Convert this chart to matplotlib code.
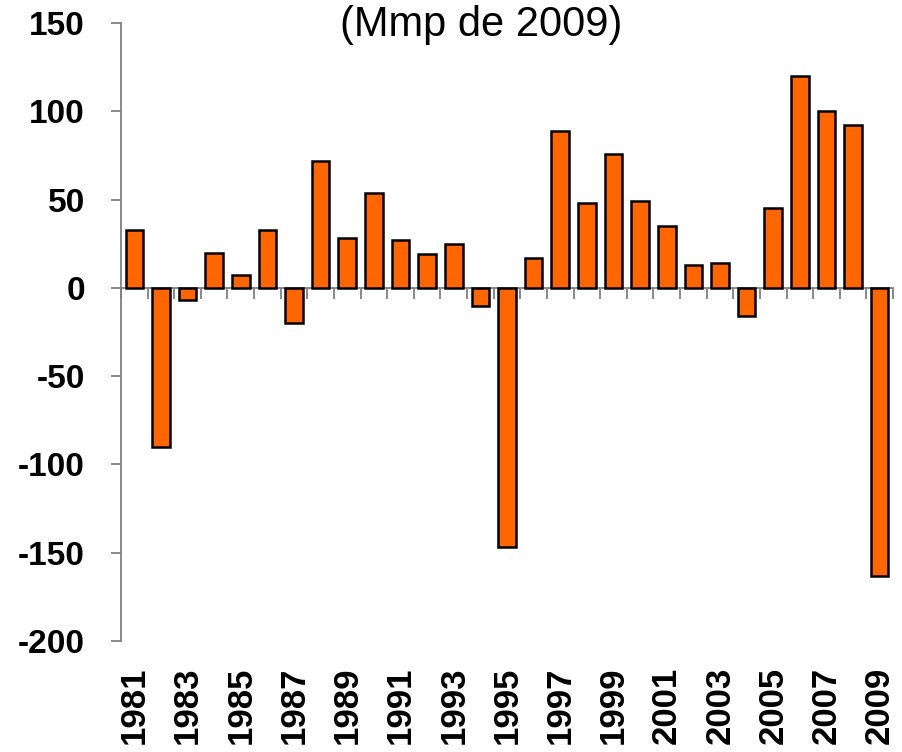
import matplotlib
matplotlib.use("Agg")
import matplotlib.pyplot as plt
import matplotlib.transforms as mtransforms

years = list(range(1981, 2010))
values = [33, -90, -7, 20, 7, 33, -20, 72, 28, 54, 27, 19, 25, -10, -147,
          17, 89, 48, 76, 49, 35, 13, 14, -16, 45, 120, 100, 92, -163]
yticks = [-200, -150, -100, -50, 0, 50, 100, 150]
title = "(Mmp de 2009)"

plt.rcParams['font.family'] = ['Liberation Sans', 'DejaVu Sans']
plt.rcParams['axes.unicode_minus'] = False

fig = plt.figure(figsize=(9.02, 7.52), dpi=100)
ax = fig.add_axes([121/902, 111/752, (893-121)/902, (641-23)/752])

x = list(range(len(years)))
ax.bar(x, values, width=0.66, color='#FF6600', edgecolor='black', linewidth=1.8, zorder=3)

ax.set_xlim(-0.5, len(years) - 0.5)
ax.set_ylim(-200, 150)

for s in ['top', 'right']:
    ax.spines[s].set_visible(False)
ax.spines['bottom'].set_position(('data', 0))
ax.spines['bottom'].set_color('#808080')
ax.spines['bottom'].set_linewidth(1.3)
ax.spines['left'].set_color('#808080')
ax.spines['left'].set_linewidth(1.3)

ax.set_yticks(yticks)
ax.set_yticklabels([str(v) for v in yticks], fontsize=24, fontweight='bold')
ax.tick_params(axis='y', direction='out', length=7, width=1.3, color='#808080', pad=19)

bounds = [i + 0.5 for i in range(-1, len(years))]
ax.set_xticks(bounds)
ax.set_xticklabels([])
ax.tick_params(axis='x', direction='out', length=8, width=1.3, color='#808080')

trans = mtransforms.blended_transform_factory(ax.transData, fig.transFigure)
for i, yr in enumerate(years):
    if i % 2 == 0:
        ax.text(i, 1 - 667/752, str(yr), transform=trans, rotation=90,
                ha='center', va='top', fontsize=25, fontweight='bold')

fig.text(481/902, 1 - 5/752, title, ha='center', va='top', fontsize=30)

fig.savefig('out.png', dpi=100)
